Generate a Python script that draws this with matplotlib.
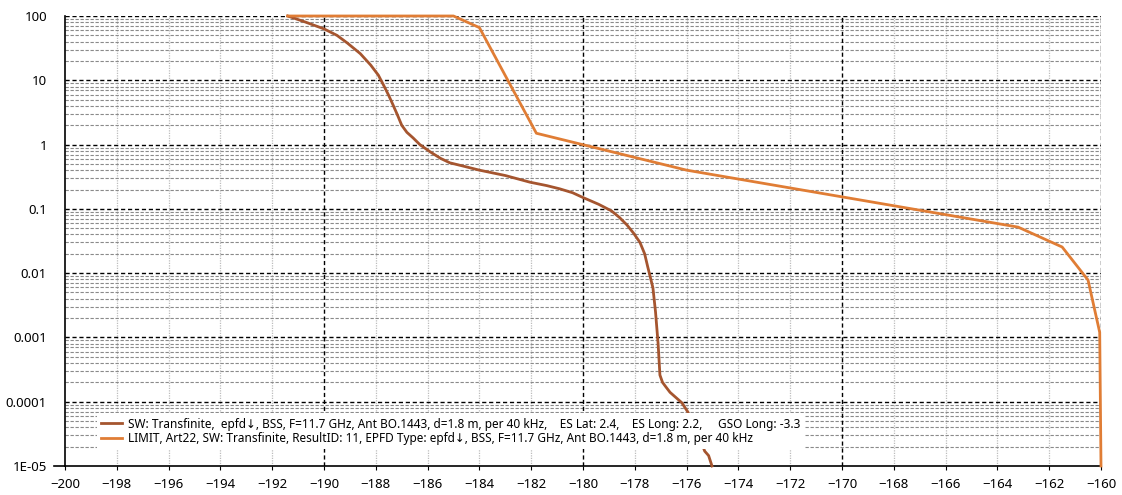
import matplotlib
matplotlib.use("Agg")
import matplotlib.pyplot as plt
from matplotlib.ticker import FixedLocator, FixedFormatter, MultipleLocator
import numpy as np

plt.rcParams['font.family'] = ['Noto Sans', 'DejaVu Sans']

# ---- data ----
sw_x = [-191.4, -190.7, -190.0, -189.5, -189.1, -188.6, -188.2, -187.9, -187.7,
        -187.5, -187.33, -187.15, -187.0, -186.8, -186.56, -186.3, -185.9, -185.5,
        -185.14, -184.6, -184.0, -183.0, -182.05, -181.4, -180.9, -180.4, -180.0,
        -179.4, -178.9, -178.6, -178.3, -178.05, -177.8, -177.62, -177.5, -177.38,
        -177.3, -177.2, -177.1, -177.03, -176.93, -176.8, -176.64, -176.4, -176.18,
        -175.95, -175.6, -175.3, -175.15, -175.02]
sw_y = [100, 80, 63, 50, 38, 26, 17.3, 12, 8.4,
        5.8, 4.1, 2.8, 2.0, 1.55, 1.27, 1.0, 0.77, 0.61,
        0.52, 0.46, 0.40, 0.33, 0.26, 0.23, 0.205, 0.178, 0.15,
        0.118, 0.093, 0.074, 0.056, 0.042, 0.030, 0.020, 0.0125, 0.008,
        0.0059, 0.0025, 0.0008, 0.00026, 0.0002, 0.00017, 0.00014, 0.000115, 9.6e-5,
        6.9e-5, 3.5e-5, 1.7e-5, 1.45e-5, 1e-5]

lim_x = [-191.4, -185.0, -184.0, -181.8, -176.0, -163.2, -161.5, -160.5, -160.05, -160.0]
lim_y = [100, 100, 66, 1.5, 0.40, 0.052, 0.0255, 0.0078, 0.0012, 1e-5]

sw_label = ("SW: Transfinite,  epfd\u2193, BSS, F=11.7 GHz, Ant BO.1443, d=1.8 m, per 40 kHz,    "
            "ES Lat: 2.4,    ES Long: 2.2,     GSO Long: -3.3")
lim_label = ("LIMIT, Art22, SW: Transfinite, ResultID: 11, EPFD Type: epfd\u2193, BSS, "
             "F=11.7 GHz, Ant BO.1443, d=1.8 m, per 40 kHz")

y_ticks = [1e-5, 1e-4, 1e-3, 1e-2, 1e-1, 1, 10, 100]
y_tick_labels = ["1E-05", "0.0001", "0.001", "0.01", "0.1", "1", "10", "100"]
x_min, x_max = -200, -160

sw_color = "#A5552F"
lim_color = "#E07D35"

fig = plt.figure(figsize=(11.22, 4.95), dpi=100)
ax = fig.add_axes([65/1122, 1-466/495, 1036/1122, 450/495])

ax.set_xlim(x_min, x_max)
ax.set_yscale('log')
ax.set_ylim(1e-5, 100)

ax.xaxis.set_major_locator(MultipleLocator(2))
ax.yaxis.set_major_locator(FixedLocator(y_ticks))
ax.yaxis.set_major_formatter(FixedFormatter(y_tick_labels))
ax.yaxis.set_minor_locator(FixedLocator([m*10.0**e for e in range(-5, 2) for m in range(2, 10)]))

for xv in np.arange(x_min + 2, x_max + 0.1, 2):
    if abs(xv % 10) < 1e-9:
        ax.axvline(xv, color='black', lw=1.0, ls=(0, (3, 2)), zorder=1)
    else:
        ax.axvline(xv, color='#bdbdbd', lw=0.9, ls=(0, (1, 1)), zorder=0.5)
for yv in y_ticks[1:]:
    ax.axhline(yv, color='black', lw=1.0, ls=(0, (3, 2)), zorder=1)
for e in range(-5, 2):
    for m in range(2, 10):
        ax.axhline(m*10.0**e, color='#8a8a8a', lw=0.8, ls=(0, (3, 1.5)), zorder=0.5)

ax.plot(sw_x, sw_y, color=sw_color, lw=2.0, label=sw_label, clip_on=False, zorder=3,
        solid_joinstyle='round')
ax.plot(lim_x, lim_y, color=lim_color, lw=2.0, label=lim_label, clip_on=False, zorder=3)

for s in ['top', 'right']:
    ax.spines[s].set_visible(False)
ax.spines['left'].set_color('black')
ax.spines['bottom'].set_color('black')
ax.spines['left'].set_linewidth(1.2)
ax.spines['bottom'].set_linewidth(1.2)

ax.tick_params(axis='y', which='both', length=0, pad=13, labelsize=9.5)
ax.tick_params(axis='x', which='major', length=3, pad=6, labelsize=9.5, color='black')
ax.plot([-0.011, 0], [0, 0], transform=ax.transAxes, color='black', lw=1.2, clip_on=False)

leg = ax.legend(loc='lower left', bbox_to_anchor=(0.031, 0.038), borderaxespad=0,
                frameon=True, fancybox=False, framealpha=1, edgecolor='none',
                facecolor='white', fontsize=8.5, handlelength=1.8, handletextpad=0.45,
                labelspacing=0.1, borderpad=0.35)
leg.set_zorder(5)

fig.savefig("out.png", dpi=100)
